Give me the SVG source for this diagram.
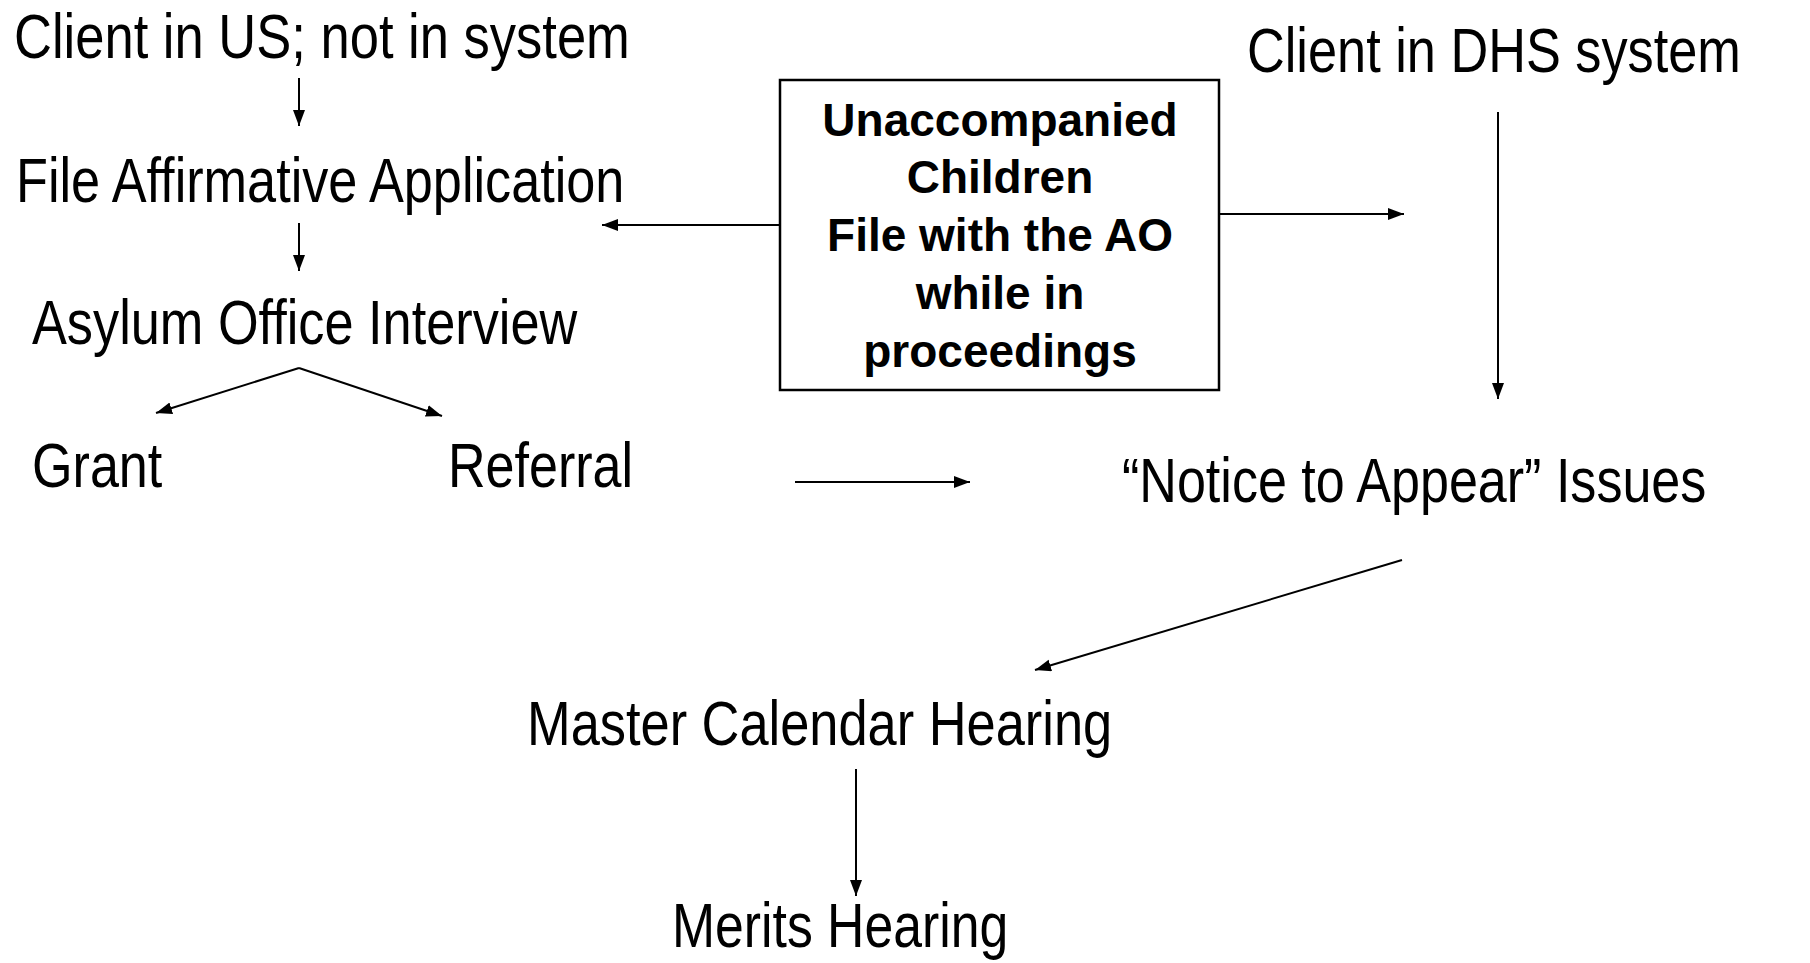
<svg xmlns="http://www.w3.org/2000/svg" width="1810" height="963" viewBox="0 0 1810 963">
<style>
.t{font-family:"Liberation Sans",Arial,sans-serif;font-size:63px;fill:#000}
.b{font-family:"Liberation Sans",Arial,sans-serif;font-weight:bold;font-size:46px;fill:#000;text-anchor:middle}
.c{stroke:#000;stroke-width:2;fill:none;marker-end:url(#ah)}
</style>
<defs>
<marker id="ah" markerUnits="userSpaceOnUse" markerWidth="18" markerHeight="14" refX="16" refY="6" orient="auto">
<path d="M0,0 L16,6 L0,12 Z" fill="#000"/>
</marker>
</defs>
<rect width="1810" height="963" fill="#fff"/>
<g id="n-client-us"><text class="t" transform="translate(14,58) scale(0.83,1)" textLength="742" lengthAdjust="spacingAndGlyphs">Client in US; not in system</text></g>
<g id="n-file-aff"><text class="t" transform="translate(16,202) scale(0.83,1)" textLength="733" lengthAdjust="spacingAndGlyphs">File Affirmative Application</text></g>
<g id="n-interview"><text class="t" transform="translate(32,344) scale(0.83,1)" textLength="657" lengthAdjust="spacingAndGlyphs">Asylum Office Interview</text></g>
<g id="n-grant"><text class="t" transform="translate(32,487) scale(0.83,1)" textLength="157" lengthAdjust="spacingAndGlyphs">Grant</text></g>
<g id="n-referral"><text class="t" transform="translate(448,487) scale(0.83,1)" textLength="223" lengthAdjust="spacingAndGlyphs">Referral</text></g>
<g id="n-uac">
<rect x="780" y="80" width="439" height="310" fill="#fff" stroke="#000" stroke-width="2.5"/>
<text class="b" x="1000" y="136">Unaccompanied</text>
<text class="b" x="1000" y="193">Children</text>
<text class="b" x="1000" y="251">File with the AO</text>
<text class="b" x="1000" y="309">while in</text>
<text class="b" x="1000" y="367">proceedings</text>
</g>
<g id="n-client-dhs"><text class="t" transform="translate(1247,72) scale(0.83,1)" textLength="595" lengthAdjust="spacingAndGlyphs">Client in DHS system</text></g>
<g id="n-nta"><text class="t" transform="translate(1122,502) scale(0.83,1)" textLength="704" lengthAdjust="spacingAndGlyphs">“Notice to Appear” Issues</text></g>
<g id="n-master"><text class="t" transform="translate(527,745) scale(0.83,1)" textLength="705" lengthAdjust="spacingAndGlyphs">Master Calendar Hearing</text></g>
<g id="n-merits"><text class="t" transform="translate(672,947) scale(0.83,1)" textLength="405" lengthAdjust="spacingAndGlyphs">Merits Hearing</text></g>
<g id="connectors">
<line class="c" x1="299" y1="78" x2="299" y2="126"/>
<line class="c" x1="299" y1="223" x2="299" y2="271"/>
<line class="c" x1="299" y1="368" x2="156" y2="413"/>
<line class="c" x1="299" y1="368" x2="442" y2="416"/>
<line class="c" x1="795" y1="482" x2="970" y2="482"/>
<line class="c" x1="780" y1="225" x2="602" y2="225"/>
<line class="c" x1="1219" y1="214" x2="1404" y2="214"/>
<line class="c" x1="1498" y1="112" x2="1498" y2="399"/>
<line class="c" x1="1402" y1="560" x2="1035" y2="670"/>
<line class="c" x1="856" y1="769" x2="856" y2="896"/>
</g>
</svg>
